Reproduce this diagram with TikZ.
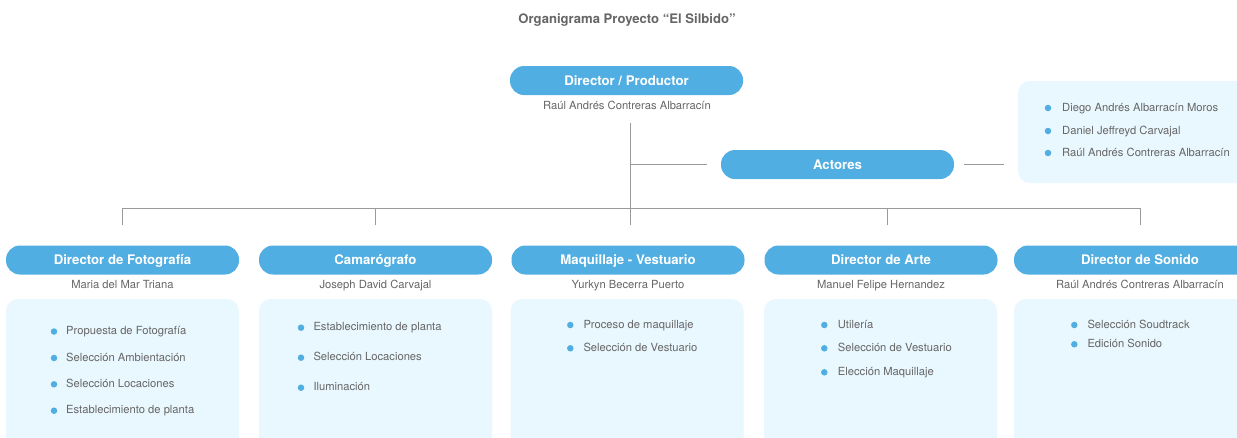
\documentclass[tikz,border=0pt]{standalone}
\usepackage{fontspec}
\setmainfont{TeX Gyre Heros}
\definecolor{pillblue}{HTML}{50AEE2}
\definecolor{lightbox}{HTML}{E9F7FE}
\definecolor{txtgray}{HTML}{666666}
\definecolor{linegray}{HTML}{9A9A9A}
\begin{document}
\begin{tikzpicture}[x=1pt,y=-1pt,
 pill/.style={fill=pillblue, rounded corners=14pt, minimum height=29pt, text=white, font=\fontsize{13.2}{15}\selectfont\bfseries, inner sep=0pt, text height=9.5pt, text depth=0pt},
 person/.style={text=txtgray, font=\fontsize{11.2}{13}\selectfont, inner sep=0pt, text height=8pt, text depth=0pt},
 panel/.style={fill=lightbox, rounded corners=12pt, inner sep=0pt},
 item/.style={text=txtgray, font=\fontsize{11.2}{13}\selectfont, anchor=west, inner sep=0pt, text height=8pt, text depth=1.6pt},
 dot/.style={circle, fill=pillblue, minimum size=6.5pt, inner sep=0pt},
 conn/.style={draw=linegray, line width=0.9pt}
]
\clip (0,0) rectangle (1237,437);
\fill[white] (0,0) rectangle (1237,437);

% title
\node[text=txtgray, font=\fontsize{13.1}{15}\selectfont\bfseries, inner sep=0pt, text height=9.4pt, text depth=0pt] (title) at (627,19) {Organigrama Proyecto “El Silbido”};

% top
\node[pill, minimum width=233pt] (dir) at (626.5,80.5) {Director / Productor};
\node[person] (dirname) at (627,105) {Raúl Andrés Contreras Albarracín};

\node[pill, minimum width=233pt] (act) at (837.5,164.5) {Actores};
\node[panel, minimum width=242pt, minimum height=102pt] (actpanel) at (1139,132) {};
\node[dot] (a1) at (1048,108) {}; \node[item] (ta1) at (1062,108) {Diego Andrés Albarracín Moros};
\node[dot] (a2) at (1048,131) {}; \node[item] (ta2) at (1062,131) {Daniel Jeffreyd Carvajal};
\node[dot] (a3) at (1048,153) {}; \node[item] (ta3) at (1062,153) {Raúl Andrés Contreras Albarracín};

% connectors
\coordinate (trunktop) at (630,123);
\coordinate (trunkmid) at (630,164);
\coordinate (actin) at (707,164);
\coordinate (actout) at (964,164);
\coordinate (panelin) at (1004,164);
\coordinate (busL) at (122,208);
\coordinate (busR) at (1140,208);
\coordinate (bus1) at (122,208); \coordinate (drop1) at (122,225);
\coordinate (bus2) at (375,208); \coordinate (drop2) at (375,225);
\coordinate (bus3) at (630,208); \coordinate (drop3) at (630,225);
\coordinate (bus4) at (887,208); \coordinate (drop4) at (887,225);
\coordinate (bus5) at (1140,208); \coordinate (drop5) at (1140,225);
\draw[conn] (trunktop) -- (bus3);
\draw[conn] (trunkmid) -- (actin);
\draw[conn] (actout) -- (panelin);
\draw[conn] (busL) -- (busR);
\draw[conn] (bus1) -- (drop1);
\draw[conn] (bus2) -- (drop2);
\draw[conn] (bus3) -- (drop3);
\draw[conn] (bus4) -- (drop4);
\draw[conn] (bus5) -- (drop5);

% column 1
\node[pill, minimum width=233pt] (p1) at (122.5,260) {Director de Fotografía};
\node[person] (n1) at (122.5,284) {Maria del Mar Triana};
\node[panel, minimum width=233pt, minimum height=170pt] (b1) at (122.5,384) {};
\node[dot] (d11) at (54,331.5) {}; \node[item] (t11) at (66,331.5) {Propuesta de Fotografía};
\node[dot] (d12) at (54,358) {}; \node[item] (t12) at (66,358) {Selección Ambientación};
\node[dot] (d13) at (54,384.3) {}; \node[item] (t13) at (66,384.3) {Selección Locaciones};
\node[dot] (d14) at (54,410.7) {}; \node[item] (t14) at (66,410.7) {Establecimiento de planta};

% column 2
\node[pill, minimum width=233pt] (p2) at (375.5,260) {Camarógrafo};
\node[person] (n2) at (375.5,284) {Joseph David Carvajal};
\node[panel, minimum width=233pt, minimum height=170pt] (b2) at (375.5,384) {};
\node[dot] (d21) at (301,327.7) {}; \node[item] (t21) at (313.3,327.7) {Establecimiento de planta};
\node[dot] (d22) at (301,357.7) {}; \node[item] (t22) at (313.3,357.7) {Selección Locaciones};
\node[dot] (d23) at (301,387.7) {}; \node[item] (t23) at (313.3,387.7) {Iluminación};

% column 3
\node[pill, minimum width=233pt] (p3) at (628,260) {Maquillaje - Vestuario};
\node[person] (n3) at (628,284) {Yurkyn Becerra Puerto};
\node[panel, minimum width=233pt, minimum height=170pt] (b3) at (627,384) {};
\node[dot] (d31) at (570.3,325) {}; \node[item] (t31) at (583.3,325) {Proceso de maquillaje};
\node[dot] (d32) at (570.3,348.3) {}; \node[item] (t32) at (583.3,348.3) {Selección de Vestuario};

% column 4
\node[pill, minimum width=233pt] (p4) at (881,260) {Director de Arte};
\node[person] (n4) at (881,284) {Manuel Felipe Hernandez};
\node[panel, minimum width=233pt, minimum height=170pt] (b4) at (880.5,384) {};
\node[dot] (d41) at (824.3,325) {}; \node[item] (t41) at (837.7,325) {Utilería};
\node[dot] (d42) at (824.3,348.3) {}; \node[item] (t42) at (837.7,348.3) {Selección de Vestuario};
\node[dot] (d43) at (824.3,372.3) {}; \node[item] (t43) at (837.7,372.3) {Elección Maquillaje};

% column 5
\node[pill, minimum width=252pt] (p5) at (1140,260) {Director de Sonido};
\node[person] (n5) at (1140,284) {Raúl Andrés Contreras Albarracín};
\node[panel, minimum width=252pt, minimum height=170pt] (b5) at (1140,384) {};
\node[dot] (d51) at (1074.3,325) {}; \node[item] (t51) at (1087.3,325) {Selección Soudtrack};
\node[dot] (d52) at (1074.3,344.3) {}; \node[item] (t52) at (1087.3,344.3) {Edición Sonido};
\end{tikzpicture}
\end{document}
